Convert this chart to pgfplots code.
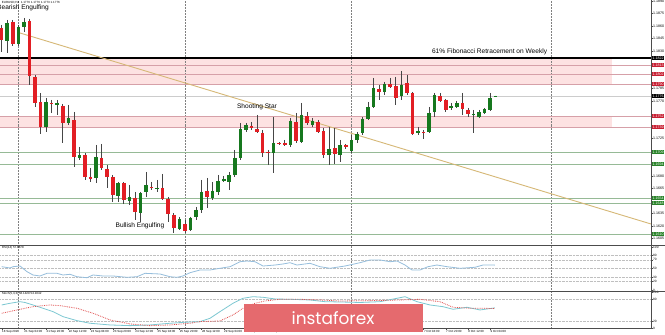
\documentclass[border=0pt]{standalone}
\usepackage{pgfplots}
\usepackage{pgfplotstable}
\pgfplotsset{compat=1.18}
\usepackage{fontspec}
\setmainfont{Liberation Sans}
\newfontfamily\wmfont{Poppins}
\definecolor{cred}{RGB}{226,30,36}
\definecolor{cgreen}{RGB}{22,120,30}
\definecolor{wick}{RGB}{70,70,70}
\definecolor{pinkfill}{RGB}{253,226,226}
\definecolor{pinkline}{RGB}{214,160,168}
\definecolor{gline}{RGB}{150,186,150}
\definecolor{trend}{RGB}{214,184,118}
\definecolor{rsic}{RGB}{150,190,220}
\definecolor{stmain}{RGB}{125,200,210}
\definecolor{stsig}{RGB}{225,80,80}
\definecolor{wm}{RGB}{229,106,110}
\definecolor{lblred}{RGB}{200,30,50}
\definecolor{lblgreen}{RGB}{40,130,40}

\pgfplotstableread{
i o h l c
1 1.18420 1.18672 1.18276 1.18636
3 1.18384 1.18612 1.18360 1.18588
4 1.18588 1.18696 1.18528 1.18648
8 1.17388 1.17736 1.17328 1.17688
10 1.17652 1.17712 1.17532 1.17676
12 1.17436 1.17652 1.17412 1.17496
14 1.17016 1.17148 1.16992 1.17052
17 1.16776 1.17172 1.16716 1.17028
21 1.16560 1.16728 1.16488 1.16716
23 1.16500 1.16692 1.16452 1.16548
25 1.16356 1.16608 1.16248 1.16596
26 1.16608 1.16848 1.16548 1.16692
28 1.16644 1.16752 1.16608 1.16656
32 1.16164 1.16308 1.16152 1.16284
34 1.16152 1.16308 1.16140 1.16296
35 1.16308 1.16428 1.16272 1.16392
36 1.16392 1.16752 1.16356 1.16608
38 1.16536 1.16728 1.16512 1.16620
39 1.16608 1.16812 1.16572 1.16740
40 1.16740 1.16800 1.16728 1.16764
41 1.16728 1.16848 1.16632 1.16812
42 1.16812 1.17112 1.16788 1.17016
43 1.17016 1.17436 1.16992 1.17364
44 1.17352 1.17436 1.17328 1.17412
49 1.17076 1.17508 1.16836 1.17196
52 1.17172 1.17496 1.17148 1.17460
54 1.17208 1.17676 1.17196 1.17532
56 1.17412 1.17496 1.17388 1.17460
59 1.17052 1.17388 1.16932 1.17124
61 1.17052 1.17232 1.16968 1.17172
63 1.17100 1.17292 1.17076 1.17232
64 1.17232 1.17328 1.17196 1.17304
65 1.17316 1.17508 1.17292 1.17484
66 1.17484 1.17688 1.17472 1.17628
67 1.17628 1.17976 1.17616 1.17856
69 1.17808 1.17928 1.17772 1.17904
72 1.17760 1.18060 1.17712 1.17892
75 1.17316 1.17388 1.17292 1.17340
77 1.17328 1.17628 1.17316 1.17556
78 1.17568 1.17796 1.17508 1.17772
81 1.17616 1.17676 1.17592 1.17640
82 1.17628 1.17700 1.17616 1.17676
85 1.17532 1.17592 1.17316 1.17544
86 1.17508 1.17592 1.17496 1.17568
87 1.17556 1.17616 1.17544 1.17604
88 1.17592 1.17796 1.17580 1.17736
89 1.17752 1.17764 1.17748 1.17760
}\bull

\pgfplotstableread{
i o h l c
0 1.18576 1.18612 1.18288 1.18432
2 1.18648 1.18672 1.18360 1.18384
5 1.18660 1.18684 1.17892 1.18000
6 1.17988 1.18012 1.17628 1.17676
7 1.17688 1.17796 1.17304 1.17388
9 1.17676 1.17712 1.17556 1.17664
11 1.17640 1.17664 1.17196 1.17436
13 1.17472 1.17568 1.16908 1.17028
15 1.17052 1.17076 1.16752 1.16788
16 1.16788 1.16896 1.16728 1.16764
18 1.17016 1.17184 1.16872 1.16896
19 1.16884 1.16932 1.16656 1.16788
20 1.16788 1.16812 1.16488 1.16572
22 1.16716 1.16728 1.16464 1.16512
24 1.16536 1.16608 1.16272 1.16368
27 1.16668 1.16728 1.16632 1.16656
29 1.16656 1.16824 1.16512 1.16524
30 1.16524 1.16548 1.16248 1.16344
31 1.16332 1.16356 1.16116 1.16176
33 1.16224 1.16272 1.16116 1.16140
37 1.16620 1.16776 1.16416 1.16548
45 1.17400 1.17448 1.17352 1.17376
46 1.17364 1.17532 1.17316 1.17328
47 1.17316 1.17352 1.17028 1.17076
48 1.17088 1.17112 1.16932 1.17076
50 1.17196 1.17208 1.17172 1.17184
51 1.17196 1.17232 1.17160 1.17172
53 1.17448 1.17556 1.17196 1.17220
55 1.17520 1.17568 1.17412 1.17436
57 1.17448 1.17472 1.17316 1.17328
58 1.17340 1.17376 1.17016 1.17052
60 1.17136 1.17376 1.16944 1.17064
62 1.17172 1.17184 1.17124 1.17148
68 1.17844 1.17892 1.17712 1.17808
70 1.17904 1.17976 1.17856 1.17868
71 1.17880 1.17988 1.17652 1.17736
73 1.17916 1.18012 1.17772 1.17796
74 1.17796 1.17808 1.17292 1.17304
76 1.17328 1.17352 1.17244 1.17316
79 1.17760 1.17796 1.17688 1.17700
80 1.17712 1.17724 1.17568 1.17592
83 1.17676 1.17796 1.17532 1.17604
84 1.17592 1.17616 1.17508 1.17544
}\bear

\newcommand\plab[3]{\node[fill=#1, text=white, font=\fontsize{3.6}{4}\selectfont, inner sep=0.4bp, anchor=west, xshift=1bp] at (axis cs:116.99,#2) {#3};}

\begin{document}
\begin{tikzpicture}
\useasboundingbox (0,0) rectangle (665bp,335bp);
\clip (0,0) rectangle (665bp,335bp);
\fill[white] (0,0) rectangle (665bp,335bp);

% ---------------- main price panel ----------------
\begin{axis}[
  at={(0,90bp)}, anchor=south west, scale only axis,
  width=651bp, height=245bp,
  xmin=-0.306, xmax=116.99, ymin=1.15972, ymax=1.18912,
  axis line style={draw=none},
  clip mode=individual,
  xtick=\empty,
  ytick={1.1605,1.1620,1.1635,1.1665,1.1680,1.1725,1.1770,1.1785,1.1830,1.1845,1.1860,1.1875,1.1890},
  ytick pos=right, yticklabel pos=right,
  yticklabel={\pgfmathprintnumber[fixed,precision=4,fixed zerofill,assume math mode=true]{\tick}},
  yticklabel style={font=\fontsize{3.6}{4}\selectfont, inner sep=0.5bp},
  tick align=outside, major tick length=1.5bp,
  ytick style={draw=black!70, line width=0.3bp},
]
% pink zones
\addplot[fill=pinkfill, draw=none, forget plot] coordinates {(-1,1.18216) (110,1.18216) (110,1.17904) (-1,1.17904)};
\addplot[fill=pinkfill, draw=none, forget plot] coordinates {(-1,1.17520) (110,1.17520) (110,1.17388) (-1,1.17388)};
% vertical dotted separators
\pgfplotsinvokeforeach{3,33,63,99}{
  \addplot[densely dotted, gray, line width=0.5bp, forget plot] coordinates {(#1,1.15) (#1,1.20)};
}
% horizontal levels
\pgfplotsinvokeforeach{1.18132,1.18024,1.17904,1.17520,1.17388}{
  \addplot[pinkline, line width=0.8bp, forget plot] coordinates {(-1,#1) (118,#1)};
}
\pgfplotsinvokeforeach{1.17088,1.16944,1.16536,1.16476,1.16104}{
  \addplot[gline, line width=0.9bp, forget plot] coordinates {(-1,#1) (118,#1)};
}
\addplot[black!20, line width=0.6bp, forget plot] coordinates {(-1,1.17760) (118,1.17760)};
\addplot[black, line width=1.5bp, forget plot] coordinates {(-1,1.18216) (118,1.18216)};
% trend line
\addplot[trend, line width=0.9bp, forget plot] coordinates {(3.3,1.18516) (117,1.16224)};
% wicks
\addplot[draw=none, mark=none, forget plot, error bars/.cd, y dir=minus, y explicit, error mark=none,
  error bar style={draw=wick, line width=0.7bp}] table[x=i, y=h, y error minus expr=\thisrow{h}-\thisrow{l}] \bull;
\addplot[draw=none, mark=none, forget plot, error bars/.cd, y dir=minus, y explicit, error mark=none,
  error bar style={draw=wick, line width=0.7bp}] table[x=i, y=h, y error minus expr=\thisrow{h}-\thisrow{l}] \bear;
% bodies
\addplot[draw=none, mark=none, forget plot, error bars/.cd, y dir=minus, y explicit, error mark=none,
  error bar style={draw=cgreen, line width=3.6bp}] table[x=i, y=c, y error minus expr=\thisrow{c}-\thisrow{o}] \bull;
\addplot[draw=none, mark=none, forget plot, error bars/.cd, y dir=minus, y explicit, error mark=none,
  error bar style={draw=cred, line width=3.6bp}] table[x=i, y=o, y error minus expr=\thisrow{o}-\thisrow{c}] \bear;
% annotations
\node[anchor=north west, font=\fontsize{3}{3.5}\selectfont, inner sep=0] at (axis cs:0,1.18900) {EURUSD,H4\ \ 1.1776 1.1776 1.1773 1.1776};
\node[anchor=east, font=\fontsize{6.6}{7}\selectfont, inner sep=0] at (axis cs:8.52,1.18816) {Bearish Engulfing};
\node[font=\fontsize{6.6}{7}\selectfont, inner sep=0] at (axis cs:46.0,1.17628) {Shooting Star};
\node[font=\fontsize{6.6}{7}\selectfont, inner sep=0] at (axis cs:24.92,1.16200) {Bullish Engulfing};
\node[font=\fontsize{6.6}{7}\selectfont, inner sep=0] at (axis cs:87.9,1.18294) {61\% Fibonacci Retracement on Weekly};
% price labels
\plab{black}{1.18216}{1.1822}
\plab{lblred}{1.18132}{1.1813}
\plab{lblred}{1.18024}{1.1802}
\plab{lblred}{1.17904}{1.1790}
\plab{black}{1.17760}{1.1776}
\plab{lblred}{1.17520}{1.1752}
\plab{lblred}{1.17388}{1.1739}
\plab{lblgreen}{1.17088}{1.1709}
\plab{lblgreen}{1.16944}{1.1694}
\plab{lblgreen}{1.16536}{1.1654}
\plab{lblgreen}{1.16476}{1.1648}
\plab{lblgreen}{1.16104}{1.1610}
\end{axis}

% ---------------- RSI panel ----------------
\begin{axis}[
  at={(0,44bp)}, anchor=south west, scale only axis,
  width=651bp, height=45bp,
  xmin=-0.306, xmax=116.99, ymin=-2.3256, ymax=102.3256,
  axis line style={draw=none}, clip mode=individual,
  xtick=\empty,
  ytick={0,20,30,50,70,80,100}, ytick pos=right, yticklabel pos=right,
  yticklabel style={font=\fontsize{3.2}{3.5}\selectfont, inner sep=0.5bp},
  tick align=outside, major tick length=1.5bp,
  ytick style={draw=black!70, line width=0.3bp},
  /pgf/number format/assume math mode=true,
]
\pgfplotsinvokeforeach{3,33,63,99}{
  \addplot[densely dotted, gray, line width=0.5bp, forget plot] coordinates {(#1,-10) (#1,110)};
}
\pgfplotsinvokeforeach{20,30,50,70,80}{
  \addplot[densely dotted, black!25, line width=0.4bp, forget plot] coordinates {(-1,#1) (118,#1)};
}
\addplot[rsic, line width=0.8bp, forget plot] coordinates {
(0,54.2) (1.5,51.2) (2.04,54.2) (3.3,55.8) (4.56,42.6) (5.64,34.9) (6.9,32.6) (8.16,38.8) (9.96,38.8) (11.04,34.9) (12.31,36.5) (13.57,30.9) (15.37,28.6) (16.45,34.9) (18.25,32.6) (20.05,32.6) (22.58,29.5) (24.38,30.9) (25.82,38.8) (28.52,37.2) (30.32,30.9) (31.59,29.5) (32.67,32.6) (33.93,40.2) (35.73,46.5) (37.53,46.5) (39.33,50.5) (41.14,54.2) (42.94,65.8) (44.2,67.4) (45.64,65.8) (47.08,55.8) (49.25,58.1) (50.69,60.5) (51.95,63.5) (53.21,58.1) (55.55,62.1) (57.35,54.2) (59.15,50.5) (61.86,55.8) (64.56,63.5) (66.36,69.8) (68.16,69.8) (69.96,65.8) (71.23,67.4) (72.67,58.1) (73.93,46.5) (75.37,46.5) (76.81,54.2) (78.43,58.1) (80.23,54.2) (82.58,50.5) (85.28,52.8) (86.72,58.1) (88.86,57.9)};
\node[anchor=north west, font=\fontsize{3}{3.5}\selectfont, inner sep=0] at (axis cs:0,101) {RSI(14) 57.8678};
\end{axis}

% ---------------- Stochastic panel ----------------
\begin{axis}[
  at={(0,6.5bp)}, anchor=south west, scale only axis,
  width=651bp, height=36.5bp,
  xmin=-0.306, xmax=116.99, ymin=-1, ymax=100,
  axis line style={draw=none}, clip mode=individual,
  xtick={0,4,...,88},
  xticklabels={18 Sep 2020,21 Sep 04:00,21 Sep 20:00,22 Sep 12:00,23 Sep 04:00,23 Sep 20:00,24 Sep 12:00,25 Sep 04:00,25 Sep 20:00,28 Sep 12:00,29 Sep 04:00,29 Sep 20:00,30 Sep 12:00,1 Oct 04:00,1 Oct 20:00,2 Oct 12:00,5 Oct 04:00,5 Oct 20:00,6 Oct 12:00,7 Oct 04:00,7 Oct 20:00,8 Oct 12:00,9 Oct 04:00},
  xtick pos=bottom,
  xticklabel style={font=\fontsize{3}{3.5}\selectfont, anchor=north west, inner sep=0.3bp},
  ytick={0,20,80,100}, ytick pos=right, yticklabel pos=right,
  yticklabel style={font=\fontsize{3.2}{3.5}\selectfont, inner sep=0.5bp},
  tick align=outside, major tick length=1.5bp,
  tick style={draw=black!70, line width=0.3bp},
  /pgf/number format/assume math mode=true,
]
\pgfplotsinvokeforeach{3,33,63,99}{
  \addplot[densely dotted, gray, line width=0.5bp, forget plot] coordinates {(#1,-10) (#1,110)};
}
\pgfplotsinvokeforeach{20,80}{
  \addplot[densely dotted, black!25, line width=0.4bp, forget plot] coordinates {(-1,#1) (118,#1)};
}
\addplot[stmain, line width=0.8bp, forget plot] coordinates {
(0,64.1) (1.5,68.8) (3.3,73.2) (4.2,71.0) (5.64,64.1) (7.44,55.0) (9.24,45.6) (11.04,31.8) (13.57,20.7) (15.91,13.5) (19.51,8.8) (23.12,6.9) (26.72,8.8) (30.32,13.5) (33.03,16.3) (35.73,18.0) (37.53,27.3) (39.33,45.6) (41.68,68.8) (43.47,82.6) (45.28,87.0) (47.08,85.4) (49.25,80.7) (51.95,79.8) (55.55,77.9) (58.25,73.2) (60.95,72.4) (64.56,71.0) (68.16,73.2) (71.23,82.6) (72.67,87.0) (74.83,73.2) (77.17,64.1) (79.5,59.4) (81.32,52.2) (83.84,57.7) (86.18,50.3) (88.86,56.1)};
\addplot[stsig, densely dotted, line width=0.8bp, forget plot] coordinates {
(0,41.2) (2.76,50.3) (5.64,59.4) (8.7,64.1) (10.5,62.2) (13.57,55.0) (16.45,41.2) (19.51,22.7) (23.12,11.6) (26.72,6.9) (30.32,8.8) (33.93,13.5) (35.73,18.0) (39.33,19.9) (41.68,36.5) (43.47,55.0) (45.64,68.8) (47.44,75.1) (50.14,79.8) (53.75,79.8) (57.35,77.9) (60.95,75.1) (68.16,76.5) (71.8,77.9) (75.37,79.8) (78.97,73.2) (81.32,57.7) (84.38,55.0) (86.72,55.0) (88.86,54.1)};
\node[anchor=north west, font=\fontsize{3}{3.5}\selectfont, inner sep=0] at (axis cs:0,99) {Stoch(5,3,3) 56.1429 54.1042};
\end{axis}

% panel separators and frame
\draw[line width=1.6bp, black!70] (0,89.5bp) -- (665bp,89.5bp);
\draw[line width=1.6bp, black!70] (0,43.5bp) -- (665bp,43.5bp);
\draw[line width=0.5bp, black!70] (651bp,6.5bp) -- (651bp,335bp);
\draw[line width=0.5bp, black!70] (0,6.5bp) -- (651bp,6.5bp);

% watermark
\fill[wm] (244bp,3bp) rectangle (423bp,31bp);
\node[text=white, font=\wmfont\fontsize{17}{18}\selectfont, inner sep=0] at (333bp,16.7bp) {instaforex};
\end{tikzpicture}
\end{document}
